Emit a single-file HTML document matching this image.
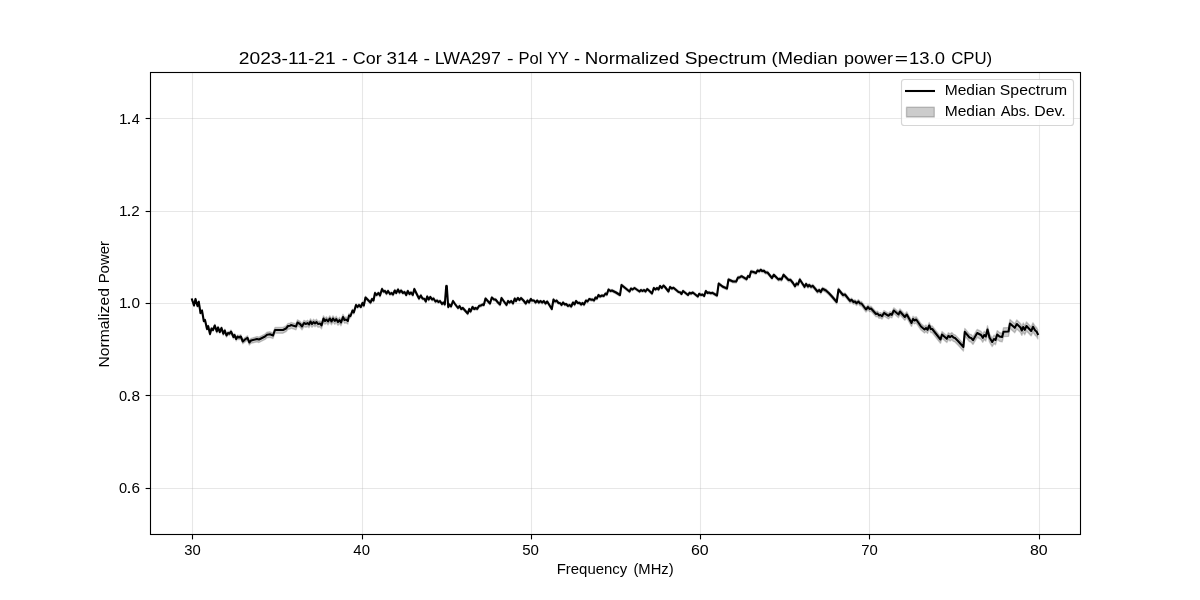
<!DOCTYPE html>
<html><head><meta charset="utf-8"><title>Normalized Spectrum</title>
<style>html,body{margin:0;padding:0;background:#fff;overflow:hidden;}svg{display:block;will-change:transform;}text{font-family:"Liberation Sans",sans-serif;fill:#000;}</style></head><body>
<svg width="1200" height="600" viewBox="0 0 1200 600">
<rect width="1200" height="600" fill="#fff"/>
<g stroke="#b0b0b0" stroke-opacity="0.3" stroke-width="1.11" fill="none">
<line x1="192.5" y1="72.5" x2="192.5" y2="534.5"/>
<line x1="362.5" y1="72.5" x2="362.5" y2="534.5"/>
<line x1="531.5" y1="72.5" x2="531.5" y2="534.5"/>
<line x1="700.5" y1="72.5" x2="700.5" y2="534.5"/>
<line x1="869.5" y1="72.5" x2="869.5" y2="534.5"/>
<line x1="1039.5" y1="72.5" x2="1039.5" y2="534.5"/>
<line x1="150.5" y1="118.5" x2="1080.5" y2="118.5"/>
<line x1="150.5" y1="211.5" x2="1080.5" y2="211.5"/>
<line x1="150.5" y1="303.5" x2="1080.5" y2="303.5"/>
<line x1="150.5" y1="395.5" x2="1080.5" y2="395.5"/>
<line x1="150.5" y1="488.5" x2="1080.5" y2="488.5"/>
</g>
<path d="M192.0,298.6 L194.0,304.6 L195.5,298.1 L197.5,305.0 L198.8,300.8 L200.5,312.0 L202.0,309.5 L203.8,320.0 L205.0,318.9 L207.0,327.9 L208.2,325.1 L210.0,332.9 L211.5,327.4 L213.0,328.9 L214.8,324.3 L216.8,330.3 L218.0,326.3 L219.8,330.7 L221.5,326.7 L223.3,332.4 L224.8,329.1 L226.5,334.1 L228.0,331.5 L229.5,332.2 L231.0,330.0 L233.5,335.4 L234.5,333.4 L236.2,337.3 L237.5,335.0 L239.0,335.7 L240.8,334.7 L242.8,339.6 L245.0,337.5 L247.5,335.7 L249.3,340.4 L251.0,338.3 L257.0,336.6 L259.0,337.1 L265.0,334.0 L267.0,332.2 L270.0,331.8 L273.0,333.0 L275.0,327.5 L283.0,327.4 L286.0,325.9 L288.0,323.4 L290.0,323.2 L291.0,322.4 L296.0,323.8 L297.5,319.8 L300.0,321.3 L302.0,323.8 L304.0,320.3 L306.0,321.3 L307.5,320.3 L309.0,321.8 L310.5,318.8 L312.0,321.3 L313.5,319.3 L315.0,320.8 L316.5,319.3 L318.0,321.3 L320.0,320.8 L321.5,322.8 L323.5,315.8 L325.0,318.3 L326.5,316.8 L328.0,318.8 L329.8,315.8 L331.5,318.8 L333.0,315.8 L334.8,318.3 L336.2,316.3 L338.0,319.3 L339.5,317.3 L341.0,319.8 L343.0,314.3 L344.5,317.3 L346.0,316.8 L347.8,318.6 L349.0,313.5 L350.5,314.5 L352.5,309.2 L353.8,311.2 L356.0,303.7 L357.5,305.7 L359.0,303.7 L360.8,305.7 L362.5,301.7 L363.8,304.2 L365.5,296.2 L368.0,298.7 L370.5,301.2 L372.0,297.7 L373.5,299.2 L375.0,291.7 L376.5,293.7 L378.5,291.7 L380.0,294.2 L382.0,287.7 L383.5,290.2 L385.0,289.7 L386.5,292.2 L388.0,289.7 L390.0,292.8 L391.5,291.8 L393.0,293.3 L394.8,289.3 L396.2,291.8 L398.0,288.3 L399.5,291.3 L401.0,289.3 L403.0,291.8 L404.5,290.8 L406.2,293.8 L407.8,289.8 L409.5,292.8 L411.0,291.3 L412.8,293.8 L414.3,287.8 L416.5,292.3 L419.0,297.3 L420.8,294.3 L422.5,297.3 L424.5,297.8 L425.8,300.3 L427.2,295.3 L428.7,298.3 L430.2,295.8 L432.2,298.3 L433.5,297.3 L435.5,300.3 L437.0,299.3 L438.5,300.8 L440.0,299.8 L442.0,302.8 L443.5,301.3 L444.8,303.3 L446.2,284.9 L446.8,284.9 L448.2,305.8 L449.5,303.3 L451.0,305.3 L453.0,299.8 L455.0,302.8 L458.0,306.8 L459.5,304.8 L461.2,307.8 L462.8,306.8 L467.7,312.3 L469.2,307.8 L470.5,310.3 L472.5,305.8 L474.2,307.8 L475.8,306.8 L477.2,307.8 L479.0,304.8 L481.0,304.3 L482.5,303.4 L483.8,303.9 L485.5,297.4 L490.0,302.4 L491.8,296.4 L494.0,298.4 L495.5,298.4 L498.0,301.4 L500.0,303.4 L501.5,296.9 L506.5,303.9 L508.0,299.9 L509.5,301.4 L511.2,299.9 L513.0,302.4 L514.7,297.4 L516.0,299.9 L517.8,296.9 L519.5,298.9 L521.0,296.9 L523.5,299.4 L525.8,302.4 L527.5,299.4 L529.0,301.4 L530.8,297.9 L532.0,299.4 L534.0,299.4 L535.5,301.4 L537.2,299.4 L538.8,301.4 L540.5,299.9 L542.2,301.4 L543.8,299.9 L545.5,302.4 L547.2,300.4 L551.8,307.9 L553.5,298.4 L555.0,300.4 L556.5,299.4 L558.5,301.9 L560.0,301.9 L561.5,303.9 L563.0,301.4 L564.8,303.4 L566.2,302.9 L568.0,304.9 L569.5,303.9 L571.2,305.4 L573.0,301.4 L574.5,303.4 L576.0,299.9 L577.8,301.9 L579.5,301.7 L581.2,303.4 L582.5,301.9 L584.0,303.4 L586.0,299.4 L587.5,300.4 L589.2,297.9 L591.5,298.7 L592.5,298.4 L594.0,299.4 L595.5,296.4 L596.8,297.4 L598.5,293.9 L600.0,295.4 L602.0,294.4 L603.8,294.9 L605.5,292.4 L606.8,293.4 L608.5,288.4 L610.5,289.9 L612.0,289.4 L616.0,291.4 L620.0,293.9 L621.5,283.9 L629.5,290.4 L631.0,287.4 L632.5,288.4 L634.5,286.9 L639.5,290.4 L641.0,288.9 L642.5,289.9 L644.0,288.9 L645.5,290.4 L647.2,287.9 L649.5,289.9 L652.0,292.4 L653.8,286.9 L655.5,288.4 L657.0,286.9 L658.5,288.4 L660.0,284.9 L661.8,286.9 L663.5,284.4 L665.0,285.9 L668.5,290.4 L670.0,285.9 L671.8,287.4 L673.5,286.7 L678.5,290.9 L680.0,291.1 L681.5,292.9 L683.0,289.9 L688.0,293.9 L689.5,291.7 L691.0,292.4 L692.8,291.4 L697.8,295.4 L699.2,292.7 L701.0,293.9 L702.5,293.4 L704.2,294.9 L705.8,289.9 L707.5,291.9 L709.0,291.4 L710.8,292.1 L712.5,291.7 L717.0,294.4 L718.7,282.4 L723.0,285.7 L727.0,287.3 L728.5,278.3 L733.0,280.3 L736.2,280.3 L738.0,276.3 L739.5,276.3 L741.5,275.0 L746.5,278.0 L748.0,274.8 L749.5,275.8 L751.0,270.3 L753.5,270.8 L756.0,271.8 L757.5,269.2 L759.2,269.9 L760.8,268.5 L762.0,269.7 L764.0,269.5 L765.5,271.2 L767.5,271.2 L772.0,276.7 L773.8,273.5 L778.5,278.2 L780.0,277.4 L781.5,278.1 L783.5,273.4 L788.5,278.6 L790.5,278.4 L793.0,281.6 L795.0,284.8 L796.5,282.1 L798.0,283.1 L799.8,278.1 L804.5,285.3 L806.0,282.5 L808.0,285.0 L809.2,283.5 L811.0,285.3 L812.8,284.3 L817.5,290.0 L819.2,288.5 L820.8,290.5 L822.5,287.3 L826.0,289.0 L829.0,291.7 L832.0,294.9 L836.7,300.4 L838.5,287.9 L843.0,293.4 L845.0,292.9 L850.0,299.1 L851.5,298.1 L853.5,300.2 L855.0,299.7 L856.5,301.3 L858.5,299.6 L860.0,301.5 L861.5,301.5 L866.0,307.4 L868.0,304.8 L869.5,306.8 L871.0,306.2 L876.0,311.7 L877.5,311.1 L879.0,313.1 L880.5,312.6 L882.0,313.8 L884.0,310.6 L888.5,313.3 L890.2,311.5 L891.8,312.3 L893.8,307.9 L898.5,311.9 L900.0,308.9 L904.8,314.3 L906.8,311.8 L911.5,320.2 L913.0,316.2 L914.5,317.7 L916.2,316.7 L921.0,323.6 L924.5,326.6 L926.0,325.1 L927.5,326.9 L929.2,322.5 L930.8,326.0 L932.2,326.0 L940.5,336.4 L942.0,331.4 L946.8,335.7 L948.5,332.7 L950.0,334.1 L951.8,332.6 L953.5,334.3 L955.0,334.8 L958.0,337.7 L963.4,343.6 L964.8,328.4 L969.5,334.1 L971.2,334.5 L973.0,336.7 L977.2,329.4 L981.0,331.4 L982.8,334.2 L984.2,331.3 L985.8,332.8 L987.5,325.8 L989.5,333.8 L992.2,338.2 L994.0,335.2 L995.5,336.2 L997.2,330.6 L999.5,332.6 L1002.2,333.1 L1003.5,327.8 L1008.5,327.5 L1010.0,319.4 L1014.8,323.8 L1016.8,319.9 L1020.5,323.4 L1021.8,326.4 L1023.2,322.9 L1024.8,325.8 L1026.5,321.9 L1031.2,326.9 L1033.0,322.8 L1035.2,326.4 L1036.5,327.4 L1037.8,329.9 L1037.8,338.9 L1036.5,336.4 L1035.2,335.4 L1033.0,331.8 L1031.2,335.9 L1026.5,330.9 L1024.8,334.8 L1023.2,331.9 L1021.8,335.4 L1020.5,332.4 L1016.8,328.9 L1014.8,332.8 L1010.0,328.4 L1008.5,336.4 L1003.5,336.6 L1002.2,341.8 L999.5,341.3 L997.2,339.2 L995.5,344.7 L994.0,343.7 L992.2,346.6 L989.5,342.1 L987.5,334.0 L985.8,341.0 L984.2,339.5 L982.8,342.3 L981.0,339.4 L977.2,337.3 L973.0,344.5 L971.2,342.2 L969.5,341.7 L964.8,335.9 L963.4,351.1 L958.0,345.0 L955.0,341.9 L953.5,341.4 L951.8,339.7 L950.0,341.1 L948.5,339.6 L946.8,342.6 L942.0,338.3 L940.5,343.2 L932.2,332.7 L930.8,332.6 L929.2,329.1 L927.5,333.4 L926.0,331.6 L924.5,333.1 L921.0,330.0 L916.2,323.0 L914.5,323.9 L913.0,322.4 L911.5,326.4 L906.8,317.8 L904.8,320.3 L900.0,314.7 L898.5,317.7 L893.8,313.6 L891.8,317.9 L890.2,317.1 L888.5,318.9 L884.0,316.0 L882.0,319.1 L880.5,317.9 L879.0,318.4 L877.5,316.4 L876.0,316.8 L871.0,311.3 L869.5,311.7 L868.0,309.7 L866.0,312.1 L861.5,306.0 L860.0,305.9 L858.5,303.8 L856.5,305.5 L855.0,303.7 L853.5,304.2 L851.5,301.9 L850.0,302.9 L845.0,296.5 L843.0,297.0 L838.5,291.4 L836.7,303.9 L832.0,298.4 L829.0,295.1 L826.0,292.4 L822.5,290.7 L820.8,293.9 L819.2,291.8 L817.5,293.3 L812.8,287.6 L811.0,288.6 L809.2,286.8 L808.0,288.3 L806.0,285.8 L804.5,288.6 L799.8,281.3 L798.0,286.2 L796.5,285.2 L795.0,287.9 L793.0,284.7 L790.5,281.5 L788.5,281.7 L783.5,276.5 L781.5,281.2 L780.0,280.4 L778.5,281.1 L773.8,276.4 L772.0,279.6 L767.5,274.1 L765.5,274.1 L764.0,272.4 L762.0,272.6 L760.8,271.3 L759.2,272.7 L757.5,272.0 L756.0,274.5 L753.5,273.5 L751.0,273.0 L749.5,278.5 L748.0,277.5 L746.5,280.7 L741.5,277.7 L739.5,279.0 L738.0,279.0 L736.2,283.0 L733.0,282.9 L728.5,280.9 L727.0,289.9 L723.0,288.2 L718.7,284.9 L717.0,296.9 L712.5,294.2 L710.8,294.6 L709.0,293.9 L707.5,294.3 L705.8,292.3 L704.2,297.3 L702.5,295.8 L701.0,296.3 L699.2,295.1 L697.8,297.8 L692.8,293.8 L691.0,294.8 L689.5,294.1 L688.0,296.3 L683.0,292.3 L681.5,295.3 L680.0,293.5 L678.5,293.3 L673.5,289.1 L671.8,289.8 L670.0,288.3 L668.5,292.8 L665.0,288.3 L663.5,286.8 L661.8,289.3 L660.0,287.3 L658.5,290.8 L657.0,289.3 L655.5,290.8 L653.8,289.3 L652.0,294.8 L649.5,292.3 L647.2,290.3 L645.5,292.8 L644.0,291.3 L642.5,292.3 L641.0,291.3 L639.5,292.8 L634.5,289.3 L632.5,290.8 L631.0,289.8 L629.5,292.8 L621.5,286.4 L620.0,296.4 L616.0,293.9 L612.0,291.9 L610.5,292.4 L608.5,290.9 L606.8,295.9 L605.5,294.9 L603.8,297.4 L602.0,296.9 L600.0,297.9 L598.5,296.4 L596.8,299.9 L595.5,298.9 L594.0,301.9 L592.5,300.9 L591.5,301.2 L589.2,300.4 L587.5,302.9 L586.0,301.9 L584.0,305.9 L582.5,304.4 L581.2,305.9 L579.5,304.2 L577.8,304.4 L576.0,302.4 L574.5,305.9 L573.0,303.9 L571.2,307.9 L569.5,306.4 L568.0,307.4 L566.2,305.4 L564.8,305.9 L563.0,303.9 L561.5,306.4 L560.0,304.4 L558.5,304.4 L556.5,301.9 L555.0,302.9 L553.5,300.9 L551.8,310.4 L547.2,302.9 L545.5,304.9 L543.8,302.4 L542.2,303.9 L540.5,302.4 L538.8,303.9 L537.2,301.9 L535.5,303.9 L534.0,301.9 L532.0,301.9 L530.8,300.4 L529.0,303.9 L527.5,301.9 L525.8,304.9 L523.5,301.9 L521.0,299.4 L519.5,301.4 L517.8,299.4 L516.0,302.4 L514.7,299.9 L513.0,304.9 L511.2,302.4 L509.5,303.9 L508.0,302.4 L506.5,306.4 L501.5,299.4 L500.0,305.9 L498.0,303.9 L495.5,300.9 L494.0,300.9 L491.8,298.9 L490.0,304.9 L485.5,299.9 L483.8,306.4 L482.5,305.9 L481.0,306.9 L479.0,307.4 L477.2,310.4 L475.8,309.4 L474.2,310.4 L472.5,308.4 L470.5,312.9 L469.2,310.4 L467.7,314.9 L462.8,309.4 L461.2,310.4 L459.5,307.4 L458.0,309.4 L455.0,305.4 L453.0,302.4 L451.0,307.9 L449.5,305.9 L448.2,308.4 L446.8,287.5 L446.2,287.5 L444.8,305.9 L443.5,303.9 L442.0,305.4 L440.0,302.4 L438.5,303.4 L437.0,301.9 L435.5,302.9 L433.5,299.9 L432.2,300.9 L430.2,298.4 L428.7,300.9 L427.2,297.9 L425.8,302.9 L424.5,300.4 L422.5,299.9 L420.8,296.9 L419.0,299.9 L416.5,294.9 L414.3,290.4 L412.8,296.5 L411.0,294.0 L409.5,295.5 L407.8,292.5 L406.2,296.5 L404.5,293.5 L403.0,294.5 L401.0,292.0 L399.5,294.0 L398.0,291.0 L396.2,294.5 L394.8,292.0 L393.0,296.0 L391.5,294.5 L390.0,295.5 L388.0,292.5 L386.5,295.0 L385.0,292.5 L383.5,293.0 L382.0,290.6 L380.0,297.1 L378.5,294.6 L376.5,296.6 L375.0,294.6 L373.5,302.1 L372.0,300.6 L370.5,304.1 L368.0,301.6 L365.5,299.1 L363.8,307.1 L362.5,304.6 L360.8,308.6 L359.0,306.6 L357.5,308.6 L356.0,306.6 L353.8,314.1 L352.5,312.1 L350.5,317.9 L349.0,318.0 L347.8,324.0 L346.0,322.8 L344.5,323.3 L343.0,320.3 L341.0,325.8 L339.5,323.3 L338.0,325.3 L336.2,322.3 L334.8,324.3 L333.0,321.8 L331.5,324.8 L329.8,321.8 L328.0,324.8 L326.5,322.8 L325.0,324.3 L323.5,321.8 L321.5,328.8 L320.0,326.8 L318.0,327.3 L316.5,325.3 L315.0,326.8 L313.5,325.3 L312.0,327.3 L310.5,324.8 L309.0,327.8 L307.5,326.3 L306.0,327.3 L304.0,326.3 L302.0,329.8 L300.0,327.3 L297.5,325.8 L296.0,329.8 L291.0,328.2 L290.0,329.0 L288.0,329.2 L286.0,331.7 L283.0,333.2 L275.0,333.1 L273.0,338.6 L270.0,337.4 L267.0,337.7 L265.0,339.5 L259.0,342.5 L257.0,341.9 L251.0,343.2 L249.3,345.1 L247.5,340.3 L245.0,341.9 L242.8,343.8 L240.8,338.7 L239.0,339.7 L237.5,338.8 L236.2,341.0 L234.5,337.0 L233.5,338.9 L231.0,333.4 L229.5,335.5 L228.0,334.8 L226.5,337.2 L224.8,332.2 L223.3,335.5 L221.5,329.6 L219.8,333.6 L218.0,329.0 L216.8,333.0 L214.8,326.9 L213.0,331.4 L211.5,329.9 L210.0,335.4 L208.2,327.5 L207.0,330.3 L205.0,321.3 L203.8,322.3 L202.0,311.7 L200.5,314.2 L198.8,303.0 L197.5,307.2 L195.5,300.2 L194.0,306.6 L192.0,300.6 Z" fill="#000" fill-opacity="0.2" stroke="#000" stroke-opacity="0.2" stroke-width="1.39" stroke-linejoin="round"/>
<path d="M192.0,299.5 L194.0,305.5 L195.5,299.0 L197.5,306.0 L198.8,301.8 L200.5,313.0 L202.0,310.5 L203.8,321.0 L205.0,320.0 L207.0,329.0 L208.2,326.2 L210.0,334.0 L211.5,328.5 L213.0,330.0 L214.8,325.5 L216.8,331.5 L218.0,327.5 L219.8,332.0 L221.5,328.0 L223.3,333.8 L224.8,330.5 L226.5,335.5 L228.0,333.0 L229.5,333.7 L231.0,331.5 L233.5,337.0 L234.5,335.0 L236.2,339.0 L237.5,336.7 L239.0,337.5 L240.8,336.5 L242.8,341.5 L245.0,339.5 L247.5,337.8 L249.3,342.5 L251.0,340.5 L257.0,339.0 L259.0,339.5 L265.0,336.5 L267.0,334.7 L270.0,334.3 L273.0,335.5 L275.0,330.0 L283.0,330.0 L286.0,328.5 L288.0,326.0 L290.0,325.8 L291.0,325.0 L296.0,326.5 L297.5,322.5 L300.0,324.0 L302.0,326.5 L304.0,323.0 L306.0,324.0 L307.5,323.0 L309.0,324.5 L310.5,321.5 L312.0,324.0 L313.5,322.0 L315.0,323.5 L316.5,322.0 L318.0,324.0 L320.0,323.5 L321.5,325.5 L323.5,318.5 L325.0,321.0 L326.5,319.5 L328.0,321.5 L329.8,318.5 L331.5,321.5 L333.0,318.5 L334.8,321.0 L336.2,319.0 L338.0,322.0 L339.5,320.0 L341.0,322.5 L343.0,317.0 L344.5,320.0 L346.0,319.5 L347.8,321.0 L349.0,315.5 L350.5,316.0 L352.5,310.5 L353.8,312.5 L356.0,305.0 L357.5,307.0 L359.0,305.0 L360.8,307.0 L362.5,303.0 L363.8,305.5 L365.5,297.5 L368.0,300.0 L370.5,302.5 L372.0,299.0 L373.5,300.5 L375.0,293.0 L376.5,295.0 L378.5,293.0 L380.0,295.5 L382.0,289.0 L383.5,291.5 L385.0,291.0 L386.5,293.5 L388.0,291.0 L390.0,294.0 L391.5,293.0 L393.0,294.5 L394.8,290.5 L396.2,293.0 L398.0,289.5 L399.5,292.5 L401.0,290.5 L403.0,293.0 L404.5,292.0 L406.2,295.0 L407.8,291.0 L409.5,294.0 L411.0,292.5 L412.8,295.0 L414.3,289.0 L416.5,293.5 L419.0,298.5 L420.8,295.5 L422.5,298.5 L424.5,299.0 L425.8,301.5 L427.2,296.5 L428.7,299.5 L430.2,297.0 L432.2,299.5 L433.5,298.5 L435.5,301.5 L437.0,300.5 L438.5,302.0 L440.0,301.0 L442.0,304.0 L443.5,302.5 L444.8,304.5 L446.2,286.1 L446.8,286.1 L448.2,307.0 L449.5,304.5 L451.0,306.5 L453.0,301.0 L455.0,304.0 L458.0,308.0 L459.5,306.0 L461.2,309.0 L462.8,308.0 L467.7,313.5 L469.2,309.0 L470.5,311.5 L472.5,307.0 L474.2,309.0 L475.8,308.0 L477.2,309.0 L479.0,306.0 L481.0,305.5 L482.5,304.5 L483.8,305.0 L485.5,298.5 L490.0,303.5 L491.8,297.5 L494.0,299.5 L495.5,299.5 L498.0,302.5 L500.0,304.5 L501.5,298.0 L506.5,305.0 L508.0,301.0 L509.5,302.5 L511.2,301.0 L513.0,303.5 L514.7,298.5 L516.0,301.0 L517.8,298.0 L519.5,300.0 L521.0,298.0 L523.5,300.5 L525.8,303.5 L527.5,300.5 L529.0,302.5 L530.8,299.0 L532.0,300.5 L534.0,300.5 L535.5,302.5 L537.2,300.5 L538.8,302.5 L540.5,301.0 L542.2,302.5 L543.8,301.0 L545.5,303.5 L547.2,301.5 L551.8,309.0 L553.5,299.5 L555.0,301.5 L556.5,300.5 L558.5,303.0 L560.0,303.0 L561.5,305.0 L563.0,302.5 L564.8,304.5 L566.2,304.0 L568.0,306.0 L569.5,305.0 L571.2,306.5 L573.0,302.5 L574.5,304.5 L576.0,301.0 L577.8,303.0 L579.5,302.8 L581.2,304.5 L582.5,303.0 L584.0,304.5 L586.0,300.5 L587.5,301.5 L589.2,299.0 L591.5,299.8 L592.5,299.5 L594.0,300.5 L595.5,297.5 L596.8,298.5 L598.5,295.0 L600.0,296.5 L602.0,295.5 L603.8,296.0 L605.5,293.5 L606.8,294.5 L608.5,289.5 L610.5,291.0 L612.0,290.5 L616.0,292.5 L620.0,295.0 L621.5,285.0 L629.5,291.5 L631.0,288.5 L632.5,289.5 L634.5,288.0 L639.5,291.5 L641.0,290.0 L642.5,291.0 L644.0,290.0 L645.5,291.5 L647.2,289.0 L649.5,291.0 L652.0,293.5 L653.8,288.0 L655.5,289.5 L657.0,288.0 L658.5,289.5 L660.0,286.0 L661.8,288.0 L663.5,285.5 L665.0,287.0 L668.5,291.5 L670.0,287.0 L671.8,288.5 L673.5,287.8 L678.5,292.0 L680.0,292.2 L681.5,294.0 L683.0,291.0 L688.0,295.0 L689.5,292.8 L691.0,293.5 L692.8,292.5 L697.8,296.5 L699.2,293.8 L701.0,295.0 L702.5,294.5 L704.2,296.0 L705.8,291.0 L707.5,293.0 L709.0,292.5 L710.8,293.2 L712.5,292.8 L717.0,295.5 L718.7,283.5 L723.0,286.8 L727.0,288.5 L728.5,279.5 L733.0,281.5 L736.2,281.5 L738.0,277.5 L739.5,277.5 L741.5,276.2 L746.5,279.2 L748.0,276.0 L749.5,277.0 L751.0,271.5 L753.5,272.0 L756.0,273.0 L757.5,270.5 L759.2,271.2 L760.8,269.8 L762.0,271.0 L764.0,270.8 L765.5,272.5 L767.5,272.5 L772.0,278.0 L773.8,274.8 L778.5,279.5 L780.0,278.8 L781.5,279.5 L783.5,274.8 L788.5,280.0 L790.5,279.8 L793.0,283.0 L795.0,286.2 L796.5,283.5 L798.0,284.5 L799.8,279.5 L804.5,286.8 L806.0,284.0 L808.0,286.5 L809.2,285.0 L811.0,286.8 L812.8,285.8 L817.5,291.5 L819.2,290.0 L820.8,292.0 L822.5,288.8 L826.0,290.5 L829.0,293.2 L832.0,296.5 L836.7,302.0 L838.5,289.5 L843.0,295.0 L845.0,294.5 L850.0,300.8 L851.5,299.8 L853.5,302.0 L855.0,301.5 L856.5,303.2 L858.5,301.5 L860.0,303.5 L861.5,303.5 L866.0,309.5 L868.0,307.0 L869.5,309.0 L871.0,308.5 L876.0,314.0 L877.5,313.5 L879.0,315.5 L880.5,315.0 L882.0,316.2 L884.0,313.0 L888.5,315.8 L890.2,314.0 L891.8,314.8 L893.8,310.5 L898.5,314.5 L900.0,311.5 L904.8,317.0 L906.8,314.5 L911.5,323.0 L913.0,319.0 L914.5,320.5 L916.2,319.5 L921.0,326.5 L924.5,329.5 L926.0,328.0 L927.5,329.8 L929.2,325.5 L930.8,329.0 L932.2,329.0 L940.5,339.5 L942.0,334.5 L946.8,338.8 L948.5,335.8 L950.0,337.2 L951.8,335.8 L953.5,337.5 L955.0,338.0 L958.0,341.0 L963.4,347.0 L964.8,331.8 L969.5,337.5 L971.2,338.0 L973.0,340.2 L977.2,333.0 L981.0,335.0 L982.8,337.8 L984.2,335.0 L985.8,336.5 L987.5,329.5 L989.5,337.5 L992.2,342.0 L994.0,339.0 L995.5,340.0 L997.2,334.5 L999.5,336.5 L1002.2,337.0 L1003.5,331.8 L1008.5,331.5 L1010.0,323.5 L1014.8,327.8 L1016.8,324.0 L1020.5,327.5 L1021.8,330.5 L1023.2,327.0 L1024.8,329.8 L1026.5,326.0 L1031.2,331.0 L1033.0,326.8 L1035.2,330.5 L1036.5,331.5 L1037.8,334.0" fill="none" stroke="#000" stroke-width="2.08" stroke-linejoin="round" stroke-linecap="square"/>
<rect x="150.5" y="72.5" width="930" height="462" fill="none" stroke="#000" stroke-width="1.11"/>
<g stroke="#000" stroke-width="1.11">
<line x1="192.5" y1="534.5" x2="192.5" y2="539.4"/>
<line x1="362.5" y1="534.5" x2="362.5" y2="539.4"/>
<line x1="531.5" y1="534.5" x2="531.5" y2="539.4"/>
<line x1="700.5" y1="534.5" x2="700.5" y2="539.4"/>
<line x1="869.5" y1="534.5" x2="869.5" y2="539.4"/>
<line x1="1039.5" y1="534.5" x2="1039.5" y2="539.4"/>
<line x1="145.6" y1="118.5" x2="150.5" y2="118.5"/>
<line x1="145.6" y1="211.5" x2="150.5" y2="211.5"/>
<line x1="145.6" y1="303.5" x2="150.5" y2="303.5"/>
<line x1="145.6" y1="395.5" x2="150.5" y2="395.5"/>
<line x1="145.6" y1="488.5" x2="150.5" y2="488.5"/>
</g>
<rect x="901.5" y="79.5" width="172" height="46" rx="2.8" ry="2.8" fill="#fff" fill-opacity="0.8" stroke="#ccc" stroke-opacity="0.8" stroke-width="1.15"/>
<rect x="905" y="89.96" width="30" height="2.08" fill="#000"/>
<rect x="906.5" y="107.3" width="27.8" height="9.7" fill="#000" fill-opacity="0.2" stroke="#000" stroke-opacity="0.2" stroke-width="1.39" stroke-linejoin="round"/>
<text x="238.79" y="63.8" font-size="17.42" textLength="96.97" lengthAdjust="spacingAndGlyphs">2023-11-21</text>
<text x="341.80" y="63.8" font-size="17.42" textLength="6.11" lengthAdjust="spacingAndGlyphs">-</text>
<text x="352.80" y="63.8" font-size="17.42" textLength="28.91" lengthAdjust="spacingAndGlyphs">Cor</text>
<text x="386.64" y="63.8" font-size="17.42" textLength="31.46" lengthAdjust="spacingAndGlyphs">314</text>
<text x="423.56" y="63.8" font-size="17.42" textLength="6.53" lengthAdjust="spacingAndGlyphs">-</text>
<text x="434.78" y="63.8" font-size="17.42" textLength="66.09" lengthAdjust="spacingAndGlyphs">LWA297</text>
<text x="506.91" y="63.8" font-size="17.42" textLength="6.53" lengthAdjust="spacingAndGlyphs">-</text>
<text x="518.43" y="63.8" font-size="17.42" textLength="23.89" lengthAdjust="spacingAndGlyphs">Pol</text>
<text x="547.16" y="63.8" font-size="17.42" textLength="21.54" lengthAdjust="spacingAndGlyphs">YY</text>
<text x="573.97" y="63.8" font-size="17.42" textLength="6.09" lengthAdjust="spacingAndGlyphs">-</text>
<text x="584.78" y="63.8" font-size="17.42" textLength="94.69" lengthAdjust="spacingAndGlyphs">Normalized</text>
<text x="684.73" y="63.8" font-size="17.42" textLength="81.64" lengthAdjust="spacingAndGlyphs">Spectrum</text>
<text x="771.58" y="63.8" font-size="17.42" textLength="66.09" lengthAdjust="spacingAndGlyphs">(Median</text>
<text x="843.90" y="63.8" font-size="17.42" textLength="49.11" lengthAdjust="spacingAndGlyphs">power</text>
<text x="894.88" y="63.8" font-size="17.42" textLength="13.24" lengthAdjust="spacingAndGlyphs">=</text>
<text x="909.06" y="63.8" font-size="17.42" textLength="35.91" lengthAdjust="spacingAndGlyphs">13.0</text>
<text x="951.13" y="63.8" font-size="17.42" textLength="40.99" lengthAdjust="spacingAndGlyphs">CPU)</text>
<text x="944.68" y="94.8" font-size="14.52" textLength="51.04" lengthAdjust="spacingAndGlyphs">Median</text>
<text x="999.89" y="94.8" font-size="14.52" textLength="67.37" lengthAdjust="spacingAndGlyphs">Spectrum</text>
<text x="944.68" y="115.7" font-size="14.52" textLength="51.04" lengthAdjust="spacingAndGlyphs">Median</text>
<text x="1000.65" y="115.7" font-size="14.52" textLength="29.51" lengthAdjust="spacingAndGlyphs">Abs.</text>
<text x="1034.28" y="115.7" font-size="14.52" textLength="31.49" lengthAdjust="spacingAndGlyphs">Dev.</text>
<text x="556.70" y="573.8" font-size="14.52" textLength="70.61" lengthAdjust="spacingAndGlyphs">Frequency</text>
<text x="633.43" y="573.8" font-size="14.52" textLength="40.18" lengthAdjust="spacingAndGlyphs">(MHz)</text>
<text x="184.25" y="555" font-size="14.52" textLength="16.50" lengthAdjust="spacingAndGlyphs">30</text>
<text x="353.35" y="555" font-size="14.52" textLength="16.58" lengthAdjust="spacingAndGlyphs">40</text>
<text x="522.19" y="555" font-size="14.52" textLength="16.77" lengthAdjust="spacingAndGlyphs">50</text>
<text x="690.99" y="555" font-size="14.52" textLength="17.76" lengthAdjust="spacingAndGlyphs">60</text>
<text x="861.19" y="555" font-size="14.52" textLength="16.56" lengthAdjust="spacingAndGlyphs">70</text>
<text x="1029.99" y="555" font-size="14.52" textLength="17.76" lengthAdjust="spacingAndGlyphs">80</text>
<text x="119.12" y="124" font-size="14.52" textLength="8.47" lengthAdjust="spacingAndGlyphs">1</text>
<text x="125.80" y="124" font-size="14.52" textLength="6.40" lengthAdjust="spacingAndGlyphs">.</text>
<text x="131.67" y="124" font-size="14.52" textLength="8.01" lengthAdjust="spacingAndGlyphs">4</text>
<text x="119.12" y="216" font-size="14.52" textLength="8.47" lengthAdjust="spacingAndGlyphs">1</text>
<text x="125.80" y="216" font-size="14.52" textLength="6.40" lengthAdjust="spacingAndGlyphs">.</text>
<text x="131.36" y="216" font-size="14.52" textLength="8.46" lengthAdjust="spacingAndGlyphs">2</text>
<text x="119.12" y="308" font-size="14.52" textLength="8.47" lengthAdjust="spacingAndGlyphs">1</text>
<text x="125.80" y="308" font-size="14.52" textLength="6.40" lengthAdjust="spacingAndGlyphs">.</text>
<text x="131.40" y="308" font-size="14.52" textLength="8.56" lengthAdjust="spacingAndGlyphs">0</text>
<text x="119.10" y="401" font-size="14.52" textLength="8.13" lengthAdjust="spacingAndGlyphs">0</text>
<text x="125.80" y="401" font-size="14.52" textLength="6.40" lengthAdjust="spacingAndGlyphs">.</text>
<text x="131.40" y="401" font-size="14.52" textLength="8.56" lengthAdjust="spacingAndGlyphs">8</text>
<text x="119.10" y="493" font-size="14.52" textLength="8.13" lengthAdjust="spacingAndGlyphs">0</text>
<text x="125.80" y="493" font-size="14.52" textLength="6.40" lengthAdjust="spacingAndGlyphs">.</text>
<text x="131.47" y="493" font-size="14.52" textLength="8.50" lengthAdjust="spacingAndGlyphs">6</text>
<g transform="translate(109,366.25) rotate(-90)">
<text x="-1.37" y="0" font-size="14.52" textLength="79.49" lengthAdjust="spacingAndGlyphs">Normalized</text>
<text x="82.90" y="0" font-size="14.52" textLength="42.40" lengthAdjust="spacingAndGlyphs">Power</text>
</g>
</svg></body></html>
